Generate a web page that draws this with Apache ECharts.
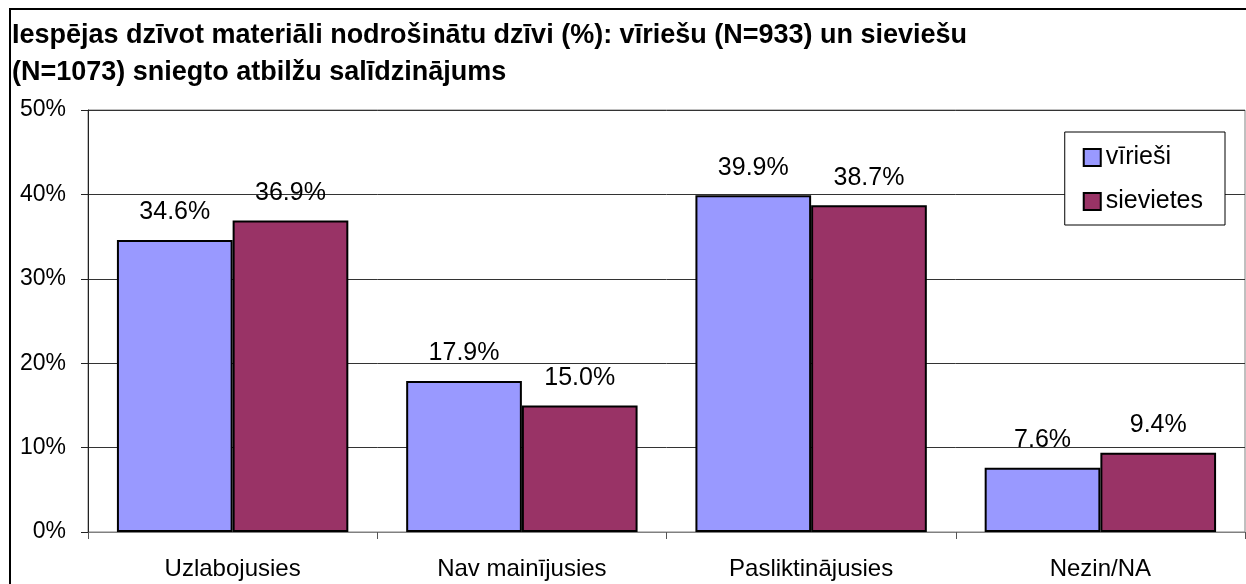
<!DOCTYPE html>
<html>
<head>
<meta charset="utf-8">
<script src="https://cdn.jsdelivr.net/npm/echarts@6/dist/echarts.min.js"></script>
<style>
  html, body { margin: 0; padding: 0; background: #fff; }
  #chart { width: 1246px; height: 584px; }
</style>
</head>
<body>
<div id="chart"></div>
<script>
var categories = ['Uzlabojusies', 'Nav mainījusies', 'Pasliktinājusies', 'Nezin/NA']
var viriesi = [34.6, 17.9, 39.9, 7.6]
var sievietes = [36.9, 15.0, 38.7, 9.4]
var seriesNames = ['vīrieši', 'sievietes']

var font = 'Liberation Sans, Arial, sans-serif'
var myChart = echarts.init(document.getElementById('chart'))

function barLabel () {
  return {
    show: true,
    position: 'top',
    distance: 15,
    color: '#000',
    fontFamily: font,
    fontSize: 25,
    formatter: function (p) { return p.value.toFixed(1) + '%' }
  }
}

var option = {
  backgroundColor: '#ffffff',
  animation: false,
  title: {
    text: 'Iespējas dzīvot materiāli nodrošinātu dzīvi (%): vīriešu (N=933) un sieviešu\n(N=1073) sniegto atbilžu salīdzinājums',
    left: 7,
    top: 12,
    textStyle: {
      fontFamily: font,
      fontSize: 27,
      fontWeight: 'bold',
      color: '#000',
      lineHeight: 37
    }
  },
  graphic: [{
    type: 'rect',
    shape: { x: 10, y: 9, width: 1250, height: 600 },
    style: { fill: 'none', stroke: '#000', lineWidth: 2 },
    silent: true
  }],
  legend: {
    orient: 'vertical',
    right: 21,
    top: 132,
    data: seriesNames,
    backgroundColor: '#fff',
    borderColor: '#000',
    borderWidth: 1,
    padding: [13, 22, 11, 18],
    itemGap: 19,
    itemWidth: 17,
    itemHeight: 17,
    icon: 'rect',
    textStyle: { fontFamily: font, fontSize: 25, color: '#000' }
  },
  grid: {
    left: 88,
    top: 110,
    right: 1,
    bottom: 52,
    show: true,
    borderColor: '#808080',
    borderWidth: 1
  },
  xAxis: {
    type: 'category',
    data: categories,
    axisLine: { lineStyle: { color: '#808080', width: 1 } },
    axisTick: { show: true, length: 7, lineStyle: { color: '#555' } },
    axisLabel: { color: '#000', fontFamily: font, fontSize: 24, margin: 25 }
  },
  yAxis: {
    type: 'value',
    min: 0,
    max: 50,
    interval: 10,
    axisLine: { show: true, lineStyle: { color: '#222', width: 1 } },
    axisTick: { show: true, length: 7, lineStyle: { color: '#222' } },
    axisLabel: { color: '#000', fontFamily: font, fontSize: 23, margin: 22, formatter: '{value}%' },
    splitLine: { lineStyle: { color: '#333', width: 1 } }
  },
  series: [{
    name: seriesNames[0],
    type: 'bar',
    data: viriesi,
    barGap: '0%',
    barCategoryGap: '20%',
    itemStyle: { color: '#9999ff', borderColor: '#000', borderWidth: 2 },
    label: barLabel()
  }, {
    name: seriesNames[1],
    type: 'bar',
    data: sievietes,
    itemStyle: { color: '#993366', borderColor: '#000', borderWidth: 2 },
    label: barLabel()
  }]
}
myChart.setOption(option)
window.onresize = myChart.resize
</script>
</body>
</html>
